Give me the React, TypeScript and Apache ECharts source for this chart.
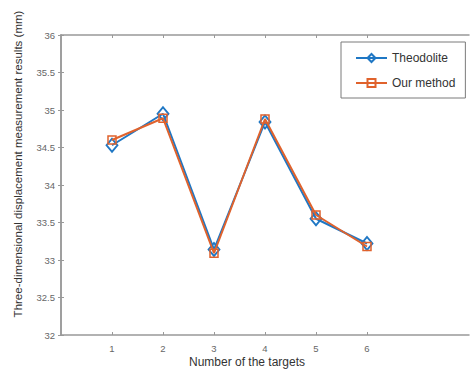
import React, { useEffect, useRef } from "react";
import * as echarts from "echarts";

const targets = [1, 2, 3, 4, 5, 6];
const theodolite = [34.53, 34.95, 33.14, 34.84, 33.55, 33.22];
const ourMethod = [34.6, 34.89, 33.09, 34.88, 33.6, 33.18];
const yTitle = "Three-dimensional displacement measurement results (mm)";
const xTitle = "Number of the targets";

const BLUE = "#1f77c4";
const ORANGE = "#e0622c";
const AXIS = "#999999";
const FONT = "Liberation Sans, Arial, sans-serif";

export default function App() {
  const ref = useRef<HTMLDivElement>(null);
  useEffect(() => {
    if (!ref.current) return;
    const chart = echarts.init(ref.current, null, { renderer: "svg" });
    const axisLine = { show: true, lineStyle: { color: AXIS, width: 1.5 } };
    const tick = { show: true, inside: true, length: 3, lineStyle: { color: AXIS } };
    chart.setOption({
      animation: false,
      backgroundColor: "#fff",
      grid: { left: 61, top: 35, width: 408, height: 300 },
      legend: {
        left: 341,
        top: 42,
        orient: "vertical",
        width: 124,
        padding: [10, 10, 9, 14],
        itemGap: 13,
        itemWidth: 31,
        itemHeight: 10,
        borderColor: "#7a7a7a",
        borderWidth: 1,
        textStyle: { fontFamily: FONT, fontSize: 12, color: "#333" },
        data: ["Theodolite", "Our method"],
      },
      xAxis: [
        {
          type: "value",
          min: 0,
          max: 8,
          interval: 1,
          axisLine,
          axisTick: { ...tick, customValues: targets },
          axisLabel: {
            customValues: targets,
            color: "#666",
            fontSize: 9.5,
            fontFamily: FONT,
            margin: 8,
          },
          splitLine: { show: false },
        },
        {
          type: "value",
          position: "top",
          min: 0,
          max: 8,
          interval: 1,
          axisLine,
          axisTick: { ...tick, customValues: targets },
          axisLabel: { show: false },
          splitLine: { show: false },
        },
      ],
      yAxis: [
        {
          type: "value",
          min: 32,
          max: 36,
          interval: 0.5,
          axisLine,
          axisTick: tick,
          axisLabel: { color: "#666", fontSize: 9.5, fontFamily: FONT, margin: 6 },
          splitLine: { show: false },
        },
        {
          type: "value",
          position: "right",
          min: 32,
          max: 36,
          interval: 0.5,
          axisLine,
          axisTick: tick,
          axisLabel: { show: false },
          splitLine: { show: false },
        },
      ],
      graphic: [
        {
          type: "text",
          x: 18,
          y: 164,
          rotation: Math.PI / 2,
          style: {
            text: yTitle,
            fontFamily: FONT,
            fontSize: 11.5,
            fill: "#333",
            align: "center",
            verticalAlign: "middle",
          },
        },
        {
          type: "text",
          x: 247,
          y: 362,
          style: {
            text: xTitle,
            fontFamily: FONT,
            fontSize: 12,
            fill: "#333",
            align: "center",
            verticalAlign: "middle",
          },
        },
      ],
      series: [
        {
          name: "Theodolite",
          type: "line",
          data: targets.map((t, i) => [t, theodolite[i]]),
          symbol: "diamond",
          symbolSize: [11, 13],
          lineStyle: { color: BLUE, width: 2 },
          itemStyle: { color: "rgba(255,255,255,0)", borderColor: BLUE, borderWidth: 1.8 },
          z: 2,
        },
        {
          name: "Our method",
          type: "line",
          data: targets.map((t, i) => [t, ourMethod[i]]),
          symbol: "rect",
          symbolSize: 8,
          lineStyle: { color: ORANGE, width: 2 },
          itemStyle: { color: "rgba(255,255,255,0)", borderColor: ORANGE, borderWidth: 1.5 },
          z: 3,
        },
      ],
    });
    return () => chart.dispose();
  }, []);
  return (
    <div
      ref={ref}
      style={{ position: "absolute", left: 0, top: 0, width: 471, height: 371 }}
    />
  );
}
